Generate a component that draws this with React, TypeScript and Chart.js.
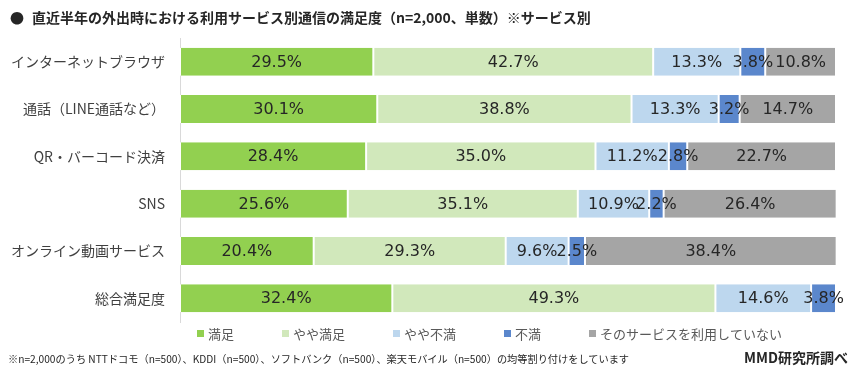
import React, { useEffect, useRef } from "react";
import { Chart, registerables } from "chart.js";

Chart.register(...registerables);

const categories = [
  "インターネットブラウザ",
  "通話（LINE通話など）",
  "QR・バーコード決済",
  "SNS",
  "オンライン動画サービス",
  "総合満足度",
];
const seriesNames = ["満足", "やや満足", "やや不満", "不満", "そのサービスを利用していない"];
const satisfied = [29.5, 30.1, 28.4, 25.6, 20.4, 32.4];
const somewhatSatisfied = [42.7, 38.8, 35.0, 35.1, 29.3, 49.3];
const somewhatDissatisfied = [13.3, 13.3, 11.2, 10.9, 9.6, 14.6];
const dissatisfied = [3.8, 3.2, 2.8, 2.2, 2.5, 3.8];
const notUsing = [10.8, 14.7, 22.7, 26.4, 38.4, null];
const seriesColors = ["#92d050", "#d1e8bb", "#bdd7ee", "#5b87cc", "#a5a5a5"];

const JP = '"Noto Sans CJK JP", "Noto Sans", sans-serif';

const valueLabels = {
  id: "valueLabels",
  afterDatasetsDraw(chart: any) {
    const ctx = chart.ctx;
    ctx.save();
    ctx.font = '16px "DejaVu Sans", sans-serif';
    ctx.fillStyle = "#262626";
    ctx.textAlign = "center";
    ctx.textBaseline = "middle";
    chart.data.datasets.forEach((ds: any, di: number) => {
      const meta = chart.getDatasetMeta(di);
      meta.data.forEach((el: any, i: number) => {
        const v = ds.data[i];
        if (v == null || v === 0) return;
        const cx = (el.x + el.base) / 2;
        ctx.fillText(v.toFixed(1) + "%", cx, el.y + 1);
      });
    });
    ctx.restore();
  },
};

const customLegend = {
  id: "customLegend",
  afterDraw(chart: any) {
    const ctx = chart.ctx;
    ctx.save();
    ctx.font = "13px " + JP;
    ctx.textBaseline = "middle";
    ctx.textAlign = "left";
    let x = 197;
    const y = 334;
    chart.data.datasets.forEach((ds: any) => {
      ctx.fillStyle = ds.backgroundColor;
      ctx.fillRect(x, y - 4, 7, 7);
      ctx.fillStyle = "#595959";
      ctx.fillText(ds.label, x + 11, y);
      x += 11 + ctx.measureText(ds.label).width + 48;
    });
    ctx.restore();
  },
};

export default function App() {
  const ref = useRef<HTMLCanvasElement | null>(null);
  useEffect(() => {
    if (!ref.current) return;
    const all = [satisfied, somewhatSatisfied, somewhatDissatisfied, dissatisfied, notUsing];
    const chart = new Chart(ref.current, {
      type: "bar",
      data: {
        labels: categories,
        datasets: all.map((d, i) => ({
          label: seriesNames[i],
          data: d as any,
          backgroundColor: seriesColors[i],
          borderColor: "#ffffff",
          borderWidth: { left: 1, right: 1, top: 0, bottom: 0 },
          borderSkipped: false,
          categoryPercentage: 1,
          barPercentage: 0.59,
        })),
      },
      options: {
        indexAxis: "y",
        responsive: false,
        animation: false,
        layout: { padding: { top: 38, right: 23, bottom: 52, left: 0 } },
        plugins: { legend: { display: false }, tooltip: { enabled: false } },
        scales: {
          x: {
            stacked: true,
            min: 0,
            max: 100.1,
            display: false,
          },
          y: {
            stacked: true,
            grid: { display: false, drawTicks: false },
            border: { display: true, color: "#d9d9d9", width: 1 },
            ticks: {
              padding: 15,
              color: "#404040",
              font: { family: JP, size: 14 },
            },
            afterFit(scale: any) {
              scale.width = 180;
            },
          },
        },
      } as any,
      plugins: [valueLabels, customLegend],
    });
    return () => chart.destroy();
  }, []);

  return (
    <div style={{ position: "fixed", left: 0, top: 0, width: 859, height: 374, background: "#fff", fontFamily: JP }}>
      <canvas ref={ref} width={859} height={374} style={{ position: "absolute", left: 0, top: 0 }} />
      <div style={{ position: "absolute", left: 10, top: 7, fontSize: 14, fontWeight: 700, color: "#262626", whiteSpace: "nowrap", lineHeight: "20px" }}>
        <span style={{ marginRight: 8 }}>●</span>直近半年の外出時における利用サービス別通信の満足度（n=2,000、単数）※サービス別
      </div>
      <div style={{ position: "absolute", left: 8, top: 350, fontSize: 10.2, color: "#262626", whiteSpace: "nowrap", lineHeight: "18px" }}>
        ※n=2,000のうち NTTドコモ（n=500）、KDDI（n=500）、ソフトバンク（n=500）、楽天モバイル（n=500）の均等割り付けをしています
      </div>
      <div style={{ position: "absolute", right: 11, top: 347, fontSize: 14, fontWeight: 700, color: "#262626", whiteSpace: "nowrap", lineHeight: "20px" }}>
        MMD研究所調べ
      </div>
    </div>
  );
}
